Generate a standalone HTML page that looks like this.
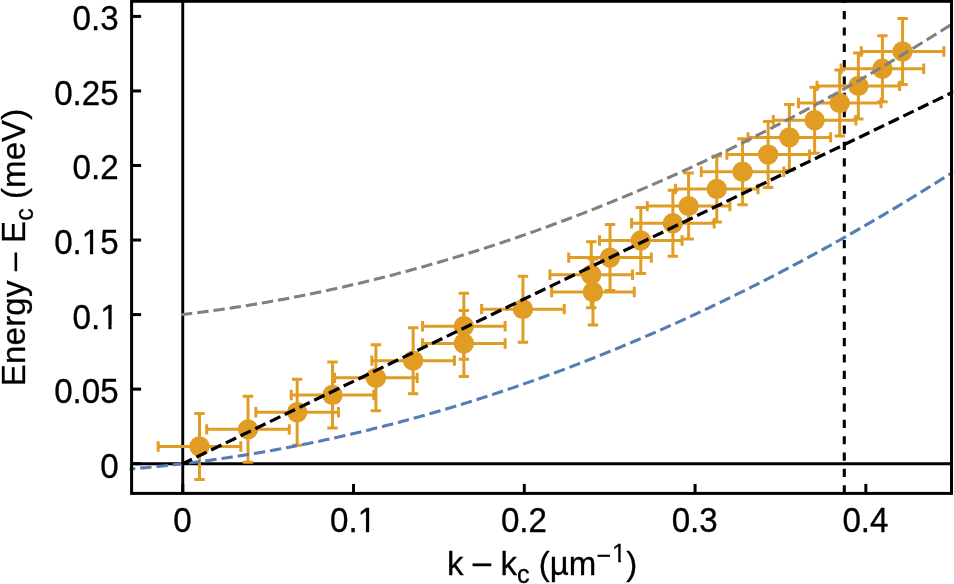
<!DOCTYPE html>
<html><head><meta charset="utf-8"><title>chart</title>
<style>
html,body{margin:0;padding:0;background:#fff;}
body{width:954px;height:584px;overflow:hidden;}
svg{display:block;will-change:transform;}
text{font-family:"Liberation Sans",sans-serif;fill:#000;stroke:#000;stroke-width:0.3px;}
</style></head><body>
<svg width="954" height="584" viewBox="0 0 954 584">
<rect x="0" y="0" width="954" height="584" fill="#fff"/>
<defs><clipPath id="cp"><rect x="129.6" y="0" width="823.6" height="495"/></clipPath></defs>

<line x1="182.75" y1="1.3" x2="182.75" y2="493.4" stroke="#000" stroke-width="2.9"/>
<line x1="131.6" y1="463.70" x2="951.5" y2="463.70" stroke="#000" stroke-width="2.9"/>
<g clip-path="url(#cp)" fill="none">
<path d="M844.3,493.4 V1.3" stroke="#000" stroke-width="3.08" stroke-dasharray="8.2 8.15"/>
</g>
<g stroke="#e19c24" stroke-width="3.0" fill="none">
<path d="M158.19,446.53H240.79M158.19,441.33V451.73M240.79,441.33V451.73M199.49,413.53V479.53M194.29,413.53H204.69M194.29,479.53H204.69"/>
<path d="M206.69,429.35H289.29M206.69,424.15V434.55M289.29,424.15V434.55M247.99,396.35V462.35M242.79,396.35H253.19M242.79,462.35H253.19"/>
<path d="M255.87,412.18H338.47M255.87,406.98V417.38M338.47,406.98V417.38M297.17,379.18V445.18M291.97,379.18H302.37M291.97,445.18H302.37"/>
<path d="M291.22,395.01H373.82M291.22,389.81V400.21M373.82,389.81V400.21M332.52,362.01V428.01M327.32,362.01H337.72M327.32,428.01H337.72"/>
<path d="M334.60,377.83H417.20M334.60,372.63V383.03M417.20,372.63V383.03M375.90,344.83V410.83M370.70,344.83H381.10M370.70,410.83H381.10"/>
<path d="M371.83,360.66H454.43M371.83,355.46V365.86M454.43,355.46V365.86M413.13,327.66V393.66M407.93,327.66H418.33M407.93,393.66H418.33"/>
<path d="M422.55,326.31H505.15M422.55,321.11V331.51M505.15,321.11V331.51M463.85,293.31V359.31M458.65,293.31H469.05M458.65,359.31H469.05"/>
<path d="M422.55,343.49H505.15M422.55,338.29V348.69M505.15,338.29V348.69M463.85,310.49V376.49M458.65,310.49H469.05M458.65,376.49H469.05"/>
<path d="M481.63,309.14H564.23M481.63,303.94V314.34M564.23,303.94V314.34M522.93,276.14V342.14M517.73,276.14H528.13M517.73,342.14H528.13"/>
<path d="M551.65,291.97H634.25M551.65,286.77V297.17M634.25,286.77V297.17M592.95,258.97V324.97M587.75,258.97H598.15M587.75,324.97H598.15"/>
<path d="M549.94,274.79H632.54M549.94,269.59V279.99M632.54,269.59V279.99M591.24,241.79V307.79M586.04,241.79H596.44M586.04,307.79H596.44"/>
<path d="M568.73,257.62H651.33M568.73,252.42V262.82M651.33,252.42V262.82M610.03,224.62V290.62M604.83,224.62H615.23M604.83,290.62H615.23"/>
<path d="M599.47,240.45H682.07M599.47,235.25V245.65M682.07,235.25V245.65M640.77,207.45V273.45M635.57,207.45H645.97M635.57,273.45H645.97"/>
<path d="M631.57,223.27H714.17M631.57,218.07V228.47M714.17,218.07V228.47M672.87,190.27V256.27M667.67,190.27H678.07M667.67,256.27H678.07"/>
<path d="M647.29,206.10H729.89M647.29,200.90V211.30M729.89,200.90V211.30M688.59,173.10V239.10M683.39,173.10H693.79M683.39,239.10H693.79"/>
<path d="M675.46,188.93H758.06M675.46,183.73V194.13M758.06,183.73V194.13M716.76,155.93V221.93M711.56,155.93H721.96M711.56,221.93H721.96"/>
<path d="M701.25,171.75H783.85M701.25,166.55V176.95M783.85,166.55V176.95M742.55,138.75V204.75M737.35,138.75H747.75M737.35,204.75H747.75"/>
<path d="M726.87,154.58H809.47M726.87,149.38V159.78M809.47,149.38V159.78M768.17,121.58V187.58M762.97,121.58H773.37M762.97,187.58H773.37"/>
<path d="M748.04,137.41H830.64M748.04,132.21V142.61M830.64,132.21V142.61M789.34,104.41V170.41M784.14,104.41H794.54M784.14,170.41H794.54"/>
<path d="M773.32,120.23H855.92M773.32,115.03V125.43M855.92,115.03V125.43M814.62,87.23V153.23M809.42,87.23H819.82M809.42,153.23H819.82"/>
<path d="M798.42,103.06H881.02M798.42,97.86V108.26M881.02,97.86V108.26M839.72,70.06V136.06M834.52,70.06H844.92M834.52,136.06H844.92"/>
<path d="M817.04,85.89H899.64M817.04,80.69V91.09M899.64,80.69V91.09M858.34,52.89V118.89M853.14,52.89H863.54M853.14,118.89H863.54"/>
<path d="M841.12,68.71H923.72M841.12,63.51V73.91M923.72,63.51V73.91M882.42,35.71V101.71M877.22,35.71H887.62M877.22,101.71H887.62"/>
<path d="M861.27,51.54H943.87M861.27,46.34V56.74M943.87,46.34V56.74M902.57,18.54V84.54M897.37,18.54H907.77M897.37,84.54H907.77"/>
</g>
<g fill="#e19c24">
<circle cx="199.49" cy="446.53" r="10.2"/>
<circle cx="247.99" cy="429.35" r="10.2"/>
<circle cx="297.17" cy="412.18" r="10.2"/>
<circle cx="332.52" cy="395.01" r="10.2"/>
<circle cx="375.90" cy="377.83" r="10.2"/>
<circle cx="413.13" cy="360.66" r="10.2"/>
<circle cx="463.85" cy="326.31" r="10.2"/>
<circle cx="463.85" cy="343.49" r="10.2"/>
<circle cx="522.93" cy="309.14" r="10.2"/>
<circle cx="592.95" cy="291.97" r="10.2"/>
<circle cx="591.24" cy="274.79" r="10.2"/>
<circle cx="610.03" cy="257.62" r="10.2"/>
<circle cx="640.77" cy="240.45" r="10.2"/>
<circle cx="672.87" cy="223.27" r="10.2"/>
<circle cx="688.59" cy="206.10" r="10.2"/>
<circle cx="716.76" cy="188.93" r="10.2"/>
<circle cx="742.55" cy="171.75" r="10.2"/>
<circle cx="768.17" cy="154.58" r="10.2"/>
<circle cx="789.34" cy="137.41" r="10.2"/>
<circle cx="814.62" cy="120.23" r="10.2"/>
<circle cx="839.72" cy="103.06" r="10.2"/>
<circle cx="858.34" cy="85.89" r="10.2"/>
<circle cx="882.42" cy="68.71" r="10.2"/>
<circle cx="902.57" cy="51.54" r="10.2"/>
</g>
<g clip-path="url(#cp)" fill="none">
<path d="M180.96,314.66 L182.97,314.42 L184.99,314.19 L187.01,313.95 L189.02,313.70 L191.04,313.46 L193.05,313.21 L195.07,312.95 L197.09,312.70 L199.10,312.44 L201.12,312.18 L203.13,311.92 L205.15,311.65 L207.17,311.38 L209.18,311.11 L211.20,310.84 L213.21,310.56 L215.23,310.28 L217.25,310.00 L219.26,309.72 L221.28,309.43 L223.30,309.14 L225.31,308.84 L227.33,308.55 L229.34,308.25 L231.36,307.95 L233.38,307.64 L235.39,307.34 L237.41,307.03 L239.42,306.71 L241.44,306.40 L243.46,306.08 L245.47,305.76 L247.49,305.44 L249.51,305.11 L251.52,304.78 L253.54,304.45 L255.55,304.12 L257.57,303.78 L259.59,303.44 L261.60,303.10 L263.62,302.75 L265.63,302.40 L267.65,302.05 L269.67,301.70 L271.68,301.34 L273.70,300.98 L275.71,300.62 L277.73,300.25 L279.75,299.89 L281.76,299.52 L283.78,299.14 L285.80,298.77 L287.81,298.39 L289.83,298.01 L291.84,297.62 L293.86,297.24 L295.88,296.85 L297.89,296.46 L299.91,296.06 L301.92,295.66 L303.94,295.26 L305.96,294.86 L307.97,294.45 L309.99,294.04 L312.01,293.63 L314.02,293.22 L316.04,292.80 L318.05,292.38 L320.07,291.96 L322.09,291.53 L324.10,291.11 L326.12,290.68 L328.13,290.24 L330.15,289.81 L332.17,289.37 L334.18,288.93 L336.20,288.48 L338.21,288.03 L340.23,287.58 L342.25,287.13 L344.26,286.68 L346.28,286.22 L348.30,285.76 L350.31,285.29 L352.33,284.83 L354.34,284.36 L356.36,283.88 L358.38,283.41 L360.39,282.93 L362.41,282.45 L364.42,281.97 L366.44,281.48 L368.46,280.99 L370.47,280.50 L372.49,280.01 L374.51,279.51 L376.52,279.01 L378.54,278.51 L380.55,278.01 L382.57,277.50 L384.59,276.99 L386.60,276.47 L388.62,275.96 L390.63,275.44 L392.65,274.92 L394.67,274.39 L396.68,273.87 L398.70,273.34 L400.71,272.81 L402.73,272.27 L404.75,271.73 L406.76,271.19 L408.78,270.65 L410.80,270.10 L412.81,269.55 L414.83,269.00 L416.84,268.45 L418.86,267.89 L420.88,267.33 L422.89,266.77 L424.91,266.20 L426.92,265.63 L428.94,265.06 L430.96,264.49 L432.97,263.91 L434.99,263.33 L437.01,262.75 L439.02,262.17 L441.04,261.58 L443.05,260.99 L445.07,260.39 L447.09,259.80 L449.10,259.20 L451.12,258.60 L453.13,258.00 L455.15,257.39 L457.17,256.78 L459.18,256.17 L461.20,255.55 L463.21,254.93 L465.23,254.31 L467.25,253.69 L469.26,253.06 L471.28,252.44 L473.30,251.80 L475.31,251.17 L477.33,250.53 L479.34,249.89 L481.36,249.25 L483.38,248.61 L485.39,247.96 L487.41,247.31 L489.42,246.65 L491.44,246.00 L493.46,245.34 L495.47,244.68 L497.49,244.01 L499.51,243.35 L501.52,242.68 L503.54,242.00 L505.55,241.33 L507.57,240.65 L509.59,239.97 L511.60,239.28 L513.62,238.60 L515.63,237.91 L517.65,237.22 L519.67,236.52 L521.68,235.82 L523.70,235.12 L525.71,234.42 L527.73,233.72 L529.75,233.01 L531.76,232.30 L533.78,231.58 L535.80,230.87 L537.81,230.15 L539.83,229.42 L541.84,228.70 L543.86,227.97 L545.88,227.24 L547.89,226.51 L549.91,225.77 L551.92,225.03 L553.94,224.29 L555.96,223.55 L557.97,222.80 L559.99,222.05 L562.01,221.30 L564.02,220.54 L566.04,219.78 L568.05,219.02 L570.07,218.26 L572.09,217.49 L574.10,216.73 L576.12,215.95 L578.13,215.18 L580.15,214.40 L582.17,213.62 L584.18,212.84 L586.20,212.05 L588.22,211.27 L590.23,210.47 L592.25,209.68 L594.26,208.88 L596.28,208.09 L598.30,207.28 L600.31,206.48 L602.33,205.67 L604.34,204.86 L606.36,204.05 L608.38,203.23 L610.39,202.41 L612.41,201.59 L614.42,200.77 L616.44,199.94 L618.46,199.11 L620.47,198.28 L622.49,197.45 L624.51,196.61 L626.52,195.77 L628.54,194.92 L630.55,194.08 L632.57,193.23 L634.59,192.38 L636.60,191.52 L638.62,190.67 L640.63,189.81 L642.65,188.94 L644.67,188.08 L646.68,187.21 L648.70,186.34 L650.72,185.47 L652.73,184.59 L654.75,183.71 L656.76,182.83 L658.78,181.95 L660.80,181.06 L662.81,180.17 L664.83,179.28 L666.84,178.38 L668.86,177.48 L670.88,176.58 L672.89,175.68 L674.91,174.77 L676.92,173.86 L678.94,172.95 L680.96,172.04 L682.97,171.12 L684.99,170.20 L687.01,169.28 L689.02,168.35 L691.04,167.42 L693.05,166.49 L695.07,165.56 L697.09,164.62 L699.10,163.68 L701.12,162.74 L703.13,161.79 L705.15,160.85 L707.17,159.89 L709.18,158.94 L711.20,157.99 L713.22,157.03 L715.23,156.07 L717.25,155.10 L719.26,154.13 L721.28,153.16 L723.30,152.19 L725.31,151.22 L727.33,150.24 L729.34,149.26 L731.36,148.27 L733.38,147.29 L735.39,146.30 L737.41,145.31 L739.42,144.31 L741.44,143.32 L743.46,142.32 L745.47,141.31 L747.49,140.31 L749.51,139.30 L751.52,138.29 L753.54,137.28 L755.55,136.26 L757.57,135.24 L759.59,134.22 L761.60,133.19 L763.62,132.17 L765.63,131.14 L767.65,130.10 L769.67,129.07 L771.68,128.03 L773.70,126.99 L775.72,125.94 L777.73,124.90 L779.75,123.85 L781.76,122.80 L783.78,121.74 L785.80,120.68 L787.81,119.62 L789.83,118.56 L791.84,117.49 L793.86,116.42 L795.88,115.35 L797.89,114.28 L799.91,113.20 L801.92,112.12 L803.94,111.04 L805.96,109.95 L807.97,108.87 L809.99,107.78 L812.01,106.68 L814.02,105.59 L816.04,104.49 L818.05,103.39 L820.07,102.28 L822.09,101.17 L824.10,100.06 L826.12,98.95 L828.13,97.84 L830.15,96.72 L832.17,95.60 L834.18,94.47 L836.20,93.35 L838.22,92.22 L840.23,91.09 L842.25,89.95 L844.26,88.81 L846.28,87.67 L848.30,86.53 L850.31,85.39 L852.33,84.24 L854.34,83.09 L856.36,81.93 L858.38,80.78 L860.39,79.62 L862.41,78.45 L864.42,77.29 L866.44,76.12 L868.46,74.95 L870.47,73.78 L872.49,72.60 L874.51,71.42 L876.52,70.24 L878.54,69.06 L880.55,67.87 L882.57,66.68 L884.59,65.49 L886.60,64.29 L888.62,63.10 L890.63,61.89 L892.65,60.69 L894.67,59.48 L896.68,58.28 L898.70,57.06 L900.72,55.85 L902.73,54.63 L904.75,53.41 L906.76,52.19 L908.78,50.96 L910.80,49.74 L912.81,48.51 L914.83,47.27 L916.84,46.04 L918.86,44.80 L920.88,43.55 L922.89,42.31 L924.91,41.06 L926.92,39.81 L928.94,38.56 L930.96,37.30 L932.97,36.05 L934.99,34.78 L937.01,33.52 L939.02,32.25 L941.04,30.98 L943.05,29.71 L945.07,28.44 L947.09,27.16 L949.10,25.88 L951.12,24.60 L953.13,23.31 L955.15,22.02 L957.17,20.73 L959.18,19.44 L961.20,18.14 L963.22,16.84 L965.23,15.54 L967.25,14.23 L969.26,12.92 L971.28,11.61 L973.30,10.30 L975.31,8.98 L977.33,7.66 L979.34,6.34 L981.36,5.02 L983.38,3.69 L985.39,2.36" stroke="#808080" stroke-width="3.08" stroke-dasharray="11.42 4.932"/>
<path d="M123.83,469.52 L125.99,469.35 L128.15,469.17 L130.31,469.00 L132.47,468.81 L134.63,468.63 L136.79,468.44 L138.95,468.25 L141.11,468.06 L143.27,467.86 L145.43,467.66 L147.58,467.46 L149.74,467.25 L151.90,467.04 L154.06,466.83 L156.22,466.61 L158.38,466.39 L160.54,466.17 L162.70,465.94 L164.86,465.72 L167.02,465.48 L169.18,465.25 L171.34,465.01 L173.50,464.77 L175.66,464.53 L177.82,464.28 L179.97,464.03 L182.13,463.77 L184.29,463.52 L186.45,463.26 L188.61,462.99 L190.77,462.73 L192.93,462.46 L195.09,462.18 L197.25,461.91 L199.41,461.63 L201.57,461.35 L203.73,461.06 L205.89,460.77 L208.05,460.48 L210.20,460.19 L212.36,459.89 L214.52,459.59 L216.68,459.28 L218.84,458.98 L221.00,458.67 L223.16,458.35 L225.32,458.04 L227.48,457.72 L229.64,457.39 L231.80,457.07 L233.96,456.74 L236.12,456.41 L238.28,456.07 L240.43,455.73 L242.59,455.39 L244.75,455.04 L246.91,454.70 L249.07,454.34 L251.23,453.99 L253.39,453.63 L255.55,453.27 L257.71,452.91 L259.87,452.54 L262.03,452.17 L264.19,451.80 L266.35,451.42 L268.51,451.04 L270.66,450.66 L272.82,450.27 L274.98,449.88 L277.14,449.49 L279.30,449.09 L281.46,448.70 L283.62,448.29 L285.78,447.89 L287.94,447.48 L290.10,447.07 L292.26,446.66 L294.42,446.24 L296.58,445.82 L298.74,445.39 L300.90,444.97 L303.05,444.54 L305.21,444.10 L307.37,443.67 L309.53,443.23 L311.69,442.79 L313.85,442.34 L316.01,441.89 L318.17,441.44 L320.33,440.98 L322.49,440.53 L324.65,440.06 L326.81,439.60 L328.97,439.13 L331.13,438.66 L333.28,438.19 L335.44,437.71 L337.60,437.23 L339.76,436.75 L341.92,436.26 L344.08,435.77 L346.24,435.28 L348.40,434.78 L350.56,434.28 L352.72,433.78 L354.88,433.27 L357.04,432.76 L359.20,432.25 L361.36,431.74 L363.51,431.22 L365.67,430.70 L367.83,430.17 L369.99,429.65 L372.15,429.11 L374.31,428.58 L376.47,428.04 L378.63,427.50 L380.79,426.96 L382.95,426.41 L385.11,425.86 L387.27,425.31 L389.43,424.76 L391.59,424.20 L393.74,423.63 L395.90,423.07 L398.06,422.50 L400.22,421.93 L402.38,421.35 L404.54,420.78 L406.70,420.19 L408.86,419.61 L411.02,419.02 L413.18,418.43 L415.34,417.84 L417.50,417.24 L419.66,416.64 L421.82,416.04 L423.98,415.43 L426.13,414.82 L428.29,414.21 L430.45,413.59 L432.61,412.98 L434.77,412.35 L436.93,411.73 L439.09,411.10 L441.25,410.47 L443.41,409.83 L445.57,409.20 L447.73,408.56 L449.89,407.91 L452.05,407.26 L454.21,406.61 L456.36,405.96 L458.52,405.30 L460.68,404.64 L462.84,403.98 L465.00,403.32 L467.16,402.65 L469.32,401.97 L471.48,401.30 L473.64,400.62 L475.80,399.94 L477.96,399.25 L480.12,398.56 L482.28,397.87 L484.44,397.18 L486.59,396.48 L488.75,395.78 L490.91,395.08 L493.07,394.37 L495.23,393.66 L497.39,392.95 L499.55,392.23 L501.71,391.51 L503.87,390.79 L506.03,390.06 L508.19,389.33 L510.35,388.60 L512.51,387.87 L514.67,387.13 L516.82,386.39 L518.98,385.64 L521.14,384.89 L523.30,384.14 L525.46,383.39 L527.62,382.63 L529.78,381.87 L531.94,381.11 L534.10,380.34 L536.26,379.57 L538.42,378.80 L540.58,378.02 L542.74,377.24 L544.90,376.46 L547.06,375.67 L549.21,374.88 L551.37,374.09 L553.53,373.30 L555.69,372.50 L557.85,371.70 L560.01,370.89 L562.17,370.09 L564.33,369.27 L566.49,368.46 L568.65,367.64 L570.81,366.82 L572.97,366.00 L575.13,365.17 L577.29,364.34 L579.44,363.51 L581.60,362.67 L583.76,361.84 L585.92,360.99 L588.08,360.15 L590.24,359.30 L592.40,358.45 L594.56,357.59 L596.72,356.73 L598.88,355.87 L601.04,355.01 L603.20,354.14 L605.36,353.27 L607.52,352.40 L609.67,351.52 L611.83,350.64 L613.99,349.76 L616.15,348.87 L618.31,347.98 L620.47,347.09 L622.63,346.19 L624.79,345.29 L626.95,344.39 L629.11,343.49 L631.27,342.58 L633.43,341.67 L635.59,340.75 L637.75,339.83 L639.90,338.91 L642.06,337.99 L644.22,337.06 L646.38,336.13 L648.54,335.20 L650.70,334.26 L652.86,333.32 L655.02,332.38 L657.18,331.43 L659.34,330.48 L661.50,329.53 L663.66,328.58 L665.82,327.62 L667.98,326.65 L670.14,325.69 L672.29,324.72 L674.45,323.75 L676.61,322.78 L678.77,321.80 L680.93,320.82 L683.09,319.83 L685.25,318.85 L687.41,317.86 L689.57,316.86 L691.73,315.87 L693.89,314.87 L696.05,313.86 L698.21,312.86 L700.37,311.85 L702.52,310.84 L704.68,309.82 L706.84,308.80 L709.00,307.78 L711.16,306.76 L713.32,305.73 L715.48,304.70 L717.64,303.66 L719.80,302.63 L721.96,301.58 L724.12,300.54 L726.28,299.49 L728.44,298.44 L730.60,297.39 L732.75,296.33 L734.91,295.28 L737.07,294.21 L739.23,293.15 L741.39,292.08 L743.55,291.01 L745.71,289.93 L747.87,288.85 L750.03,287.77 L752.19,286.69 L754.35,285.60 L756.51,284.51 L758.67,283.41 L760.83,282.32 L762.98,281.22 L765.14,280.11 L767.30,279.01 L769.46,277.90 L771.62,276.78 L773.78,275.67 L775.94,274.55 L778.10,273.43 L780.26,272.30 L782.42,271.17 L784.58,270.04 L786.74,268.90 L788.90,267.77 L791.06,266.63 L793.21,265.48 L795.37,264.33 L797.53,263.18 L799.69,262.03 L801.85,260.87 L804.01,259.71 L806.17,258.55 L808.33,257.38 L810.49,256.21 L812.65,255.04 L814.81,253.86 L816.97,252.68 L819.13,251.50 L821.29,250.32 L823.45,249.13 L825.60,247.94 L827.76,246.74 L829.92,245.54 L832.08,244.34 L834.24,243.14 L836.40,241.93 L838.56,240.72 L840.72,239.51 L842.88,238.29 L845.04,237.07 L847.20,235.85 L849.36,234.62 L851.52,233.39 L853.68,232.16 L855.83,230.92 L857.99,229.69 L860.15,228.44 L862.31,227.20 L864.47,225.95 L866.63,224.70 L868.79,223.44 L870.95,222.19 L873.11,220.93 L875.27,219.66 L877.43,218.39 L879.59,217.12 L881.75,215.85 L883.91,214.57 L886.06,213.29 L888.22,212.01 L890.38,210.73 L892.54,209.44 L894.70,208.14 L896.86,206.85 L899.02,205.55 L901.18,204.25 L903.34,202.94 L905.50,201.64 L907.66,200.32 L909.82,199.01 L911.98,197.69 L914.14,196.37 L916.29,195.05 L918.45,193.72 L920.61,192.39 L922.77,191.06 L924.93,189.72 L927.09,188.38 L929.25,187.04 L931.41,185.69 L933.57,184.34 L935.73,182.99 L937.89,181.64 L940.05,180.28 L942.21,178.92 L944.37,177.55 L946.53,176.18 L948.68,174.81 L950.84,173.44 L953.00,172.06 L955.16,170.68 L957.32,169.30 L959.48,167.91 L961.64,166.52 L963.80,165.13 L965.96,163.73 L968.12,162.33 L970.28,160.93 L972.44,159.53 L974.60,158.12 L976.76,156.70 L978.91,155.29 L981.07,153.87 L983.23,152.45 L985.39,151.03" stroke="#547db6" stroke-width="3.08" stroke-dasharray="11.44 4.94"/>
</g>
<g clip-path="url(#cp)" fill="none">
<path d="M181.21,464.44 L985.39,76.52" stroke="#000" stroke-width="3.25" stroke-dasharray="11.42 4.932" stroke-dashoffset="-0.5"/>
</g>
<g stroke="#000" stroke-width="3.0">
<line x1="182.75" y1="493.4" x2="182.75" y2="483.9"/>
<line x1="353.52" y1="493.4" x2="353.52" y2="483.9"/>
<line x1="524.30" y1="493.4" x2="524.30" y2="483.9"/>
<line x1="695.07" y1="493.4" x2="695.07" y2="483.9"/>
<line x1="865.85" y1="493.4" x2="865.85" y2="483.9"/>
<line x1="131.6" y1="463.70" x2="141.1" y2="463.70"/>
<line x1="131.6" y1="389.15" x2="141.1" y2="389.15"/>
<line x1="131.6" y1="314.60" x2="141.1" y2="314.60"/>
<line x1="131.6" y1="240.05" x2="141.1" y2="240.05"/>
<line x1="131.6" y1="165.50" x2="141.1" y2="165.50"/>
<line x1="131.6" y1="90.95" x2="141.1" y2="90.95"/>
<line x1="131.6" y1="16.40" x2="141.1" y2="16.40"/>
</g>
<rect x="131.6" y="1.3" width="819.9" height="492.09999999999997" fill="none" stroke="#000" stroke-width="3.0"/>
<text transform="translate(118.6,477.60) scale(1.004,1.065)" font-size="33.0" text-anchor="end">0</text>
<text transform="translate(118.6,403.05) scale(1.004,1.065)" font-size="33.0" text-anchor="end">0.05</text>
<text transform="translate(118.6,328.50) scale(1.004,1.065)" font-size="33.0" text-anchor="end">0.1</text>
<text transform="translate(118.6,253.95) scale(1.004,1.065)" font-size="33.0" text-anchor="end">0.15</text>
<text transform="translate(118.6,179.40) scale(1.004,1.065)" font-size="33.0" text-anchor="end">0.2</text>
<text transform="translate(118.6,104.85) scale(1.004,1.065)" font-size="33.0" text-anchor="end">0.25</text>
<text transform="translate(118.6,30.30) scale(1.004,1.065)" font-size="33.0" text-anchor="end">0.3</text>
<text transform="translate(182.35,532.3) scale(1.004,1.065)" font-size="33.0" text-anchor="middle">0</text>
<text transform="translate(353.12,532.3) scale(1.004,1.065)" font-size="33.0" text-anchor="middle">0.1</text>
<text transform="translate(523.90,532.3) scale(1.004,1.065)" font-size="33.0" text-anchor="middle">0.2</text>
<text transform="translate(694.67,532.3) scale(1.004,1.065)" font-size="33.0" text-anchor="middle">0.3</text>
<text transform="translate(865.45,532.3) scale(1.004,1.065)" font-size="33.0" text-anchor="middle">0.4</text>
<text x="447.1" y="574.5" font-size="33.0">k <tspan dy="-1.7">–</tspan><tspan dy="1.7" dx="0.3"> </tspan>k<tspan font-size="25.08" dy="8.0" dx="0">c</tspan><tspan dy="-8.0" dx="0"> (µm</tspan><tspan font-size="25.08" dy="-10.2" dx="0.5" textLength="14.5" lengthAdjust="spacingAndGlyphs">−</tspan><tspan font-size="25.08" dy="-2.4" dx="0.8">1</tspan><tspan dy="12.6" dx="0.1">)</tspan></text>
<text transform="translate(25.2,386.3) rotate(-90)" font-size="33.0" letter-spacing="0.07"><tspan letter-spacing="0.24">Energy </tspan><tspan dy="-1.7">–</tspan><tspan dy="1.7" dx="0.3"> </tspan>E<tspan font-size="25.08" dy="8.0" dx="0">c</tspan><tspan dy="-8.0" dx="0"> (meV)</tspan></text>
<g fill="#fff">
<rect x="101.29" y="325.27" width="7.06" height="5.43"/>
<rect x="111.58" y="325.27" width="6.80" height="5.43"/>
<rect x="82.88" y="250.72" width="7.06" height="5.43"/>
<rect x="93.16" y="250.72" width="6.80" height="5.43"/>
<rect x="358.84" y="529.07" width="7.06" height="5.43"/>
<rect x="369.13" y="529.07" width="6.80" height="5.43"/>
<rect x="612.63" y="559.43" width="5.65" height="4.67"/>
<rect x="620.80" y="559.43" width="5.45" height="4.67"/>
</g>
</svg></body></html>
